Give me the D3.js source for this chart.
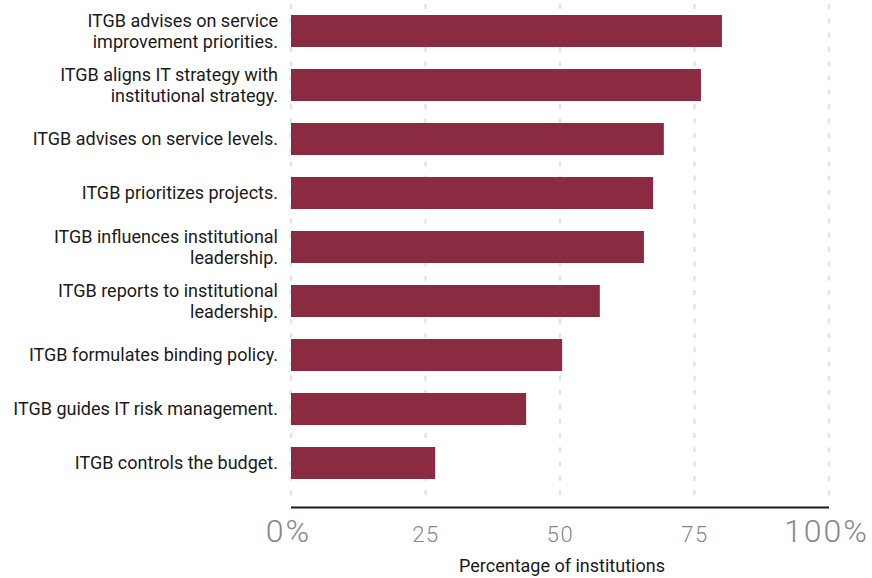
<!DOCTYPE html>
<html>
<head>
<meta charset="utf-8">
<script src="https://cdn.jsdelivr.net/npm/d3@7/dist/d3.min.js"></script>
<style>
  html, body { margin: 0; padding: 0; background: #fff; }
  svg { display: block; font-family: Roboto, "Noto Sans", sans-serif; }
</style>
</head>
<body>
<svg id="chart" width="872" height="578"></svg>
<script>
// Governance roles of the IT governance body (ITGB)
const categories = [
  ["ITGB advises on service", "improvement priorities."],
  ["ITGB aligns IT strategy with", "institutional strategy."],
  ["ITGB advises on service levels."],
  ["ITGB prioritizes projects."],
  ["ITGB influences institutional", "leadership."],
  ["ITGB reports to institutional", "leadership."],
  ["ITGB formulates binding policy."],
  ["ITGB guides IT risk management."],
  ["ITGB controls the budget."]
];
const values = [80.1, 76.2, 69.3, 67.3, 65.6, 57.4, 50.4, 43.7, 26.8];
const tickValues = [0, 25, 50, 75, 100];
const tickLabels = ["0%", "25", "50", "75", "100%"];
const axisTitle = "Percentage of institutions";

const svg = d3.select("#chart");
const ids = d3.range(values.length);

const x = d3.scaleLinear().domain([0, 100]).range([291, 829]);
const y = d3.scaleBand().domain(ids).range([4, 490])
  .paddingInner(0.407).paddingOuter(0.2035);

// dashed vertical gridlines
svg.append("g").selectAll("line").data(tickValues).join("line")
  .attr("x1", d => x(d)).attr("x2", d => x(d))
  .attr("y1", 4).attr("y2", 504)
  .attr("stroke", "#e4e4e4").attr("stroke-width", 2.5)
  .attr("stroke-dasharray", "5 9.3");

// bars
svg.append("g").selectAll("rect").data(ids).join("rect")
  .attr("x", x(0))
  .attr("y", i => y(i))
  .attr("width", i => x(values[i]) - x(0))
  .attr("height", y.bandwidth())
  .attr("fill", "#8a2b42");

// category labels
const lh = 21;
const lab = svg.append("g").selectAll("text").data(ids).join("text")
  .attr("text-anchor", "end")
  .attr("fill", "#1a1a1a")
  .attr("font-size", 18);
lab.each(function(i) {
  const lines = categories[i];
  const cy = y(i) + y.bandwidth() / 2;
  d3.select(this).selectAll("tspan").data(lines).join("tspan")
    .attr("x", 278)
    .attr("y", (d, k) => cy + (k - (lines.length - 1) / 2) * lh)
    .attr("dy", "0.35em")
    .text(d => d);
});

// x axis
const isEnd = (d, i) => i === 0 || i === tickValues.length - 1;
const axis = svg.append("g").attr("transform", "translate(0,507.5)")
  .call(d3.axisBottom(x).tickValues(tickValues).tickSize(0)
    .tickFormat((d, i) => tickLabels[i]));
axis.select(".domain").attr("stroke", "#1a1a1a").attr("stroke-width", 2)
  .attr("d", `M${x(0)},0H${x(100)}`);
axis.selectAll(".tick text")
  .attr("fill", "#85878a")
  .attr("font-family", "Roboto, sans-serif")
  .attr("font-weight", 300)
  .attr("dy", 0)
  .attr("y", 34)
  .attr("dx", (d, i) => isEnd(d, i) ? -3 : 0)
  .attr("font-size", (d, i) => isEnd(d, i) ? 32 : 22)
  .attr("letter-spacing", (d, i) => isEnd(d, i) ? 2 : 1.5);

svg.append("text")
  .attr("x", 562).attr("y", 572)
  .attr("text-anchor", "middle")
  .attr("fill", "#1a1a1a")
  .attr("font-size", 18)
  .text(axisTitle);
</script>
</body>
</html>
